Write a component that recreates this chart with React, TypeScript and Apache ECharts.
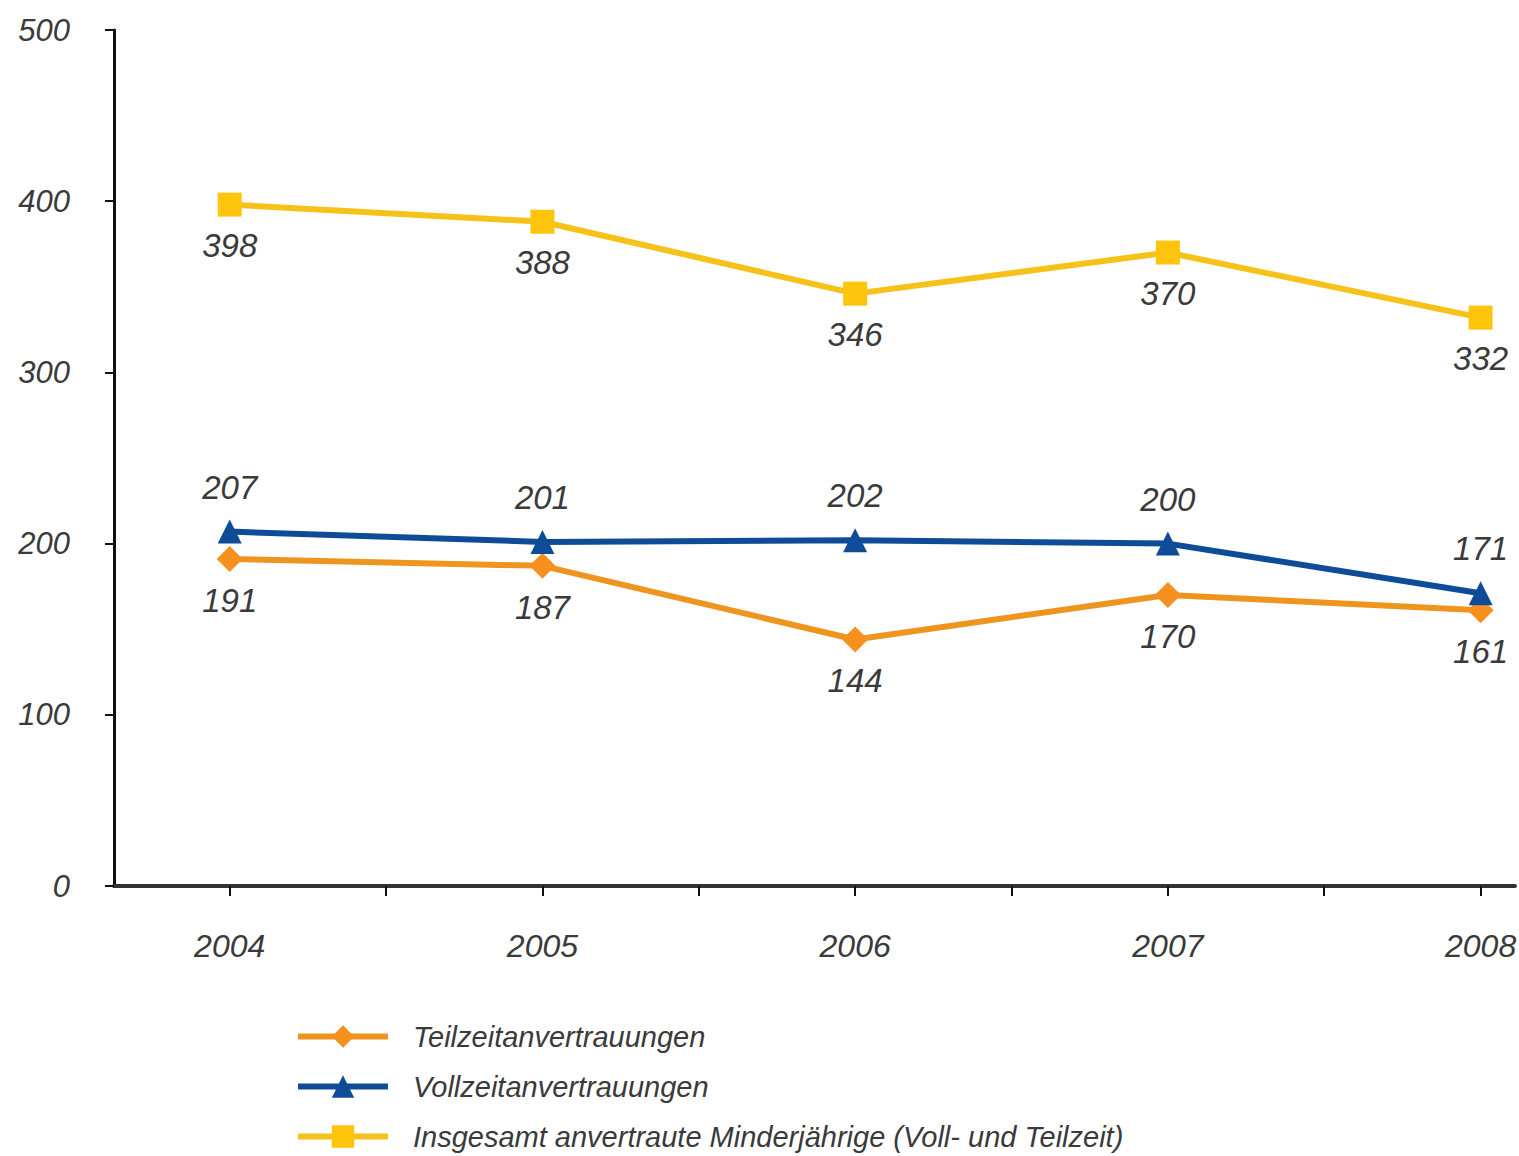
import React, { useEffect, useRef } from "react";
import * as echarts from "echarts";

// Years on the horizontal axis
const years = [2004, 2005, 2006, 2007, 2008];

// Series values (number of placements per year)
const teilzeit = [191, 187, 144, 170, 161];
const vollzeit = [207, 201, 202, 200, 171];
const insgesamt = [398, 388, 346, 370, 332];

// Series names as shown in the legend
const seriesNames = [
  "Teilzeitanvertrauungen",
  "Vollzeitanvertrauungen",
  "Insgesamt anvertraute Minderjährige (Voll- und Teilzeit)",
];

// Y axis tick values
const yTicks = [0, 100, 200, 300, 400, 500];

const FONT = '"Liberation Sans", Arial, sans-serif';
const TEXT = "#3a3a3a";
const W = 1519;
const H = 1156;

export default function App() {
  const ref = useRef<HTMLDivElement>(null);

  useEffect(() => {
    if (!ref.current) return;
    const chart = echarts.init(ref.current, null, { renderer: "svg", width: W, height: H });

    const pairs = (vals: number[]) => years.map((y, i) => [y, vals[i]]);
    const halfSteps = years.flatMap((y) => [y, y + 0.5]).filter((v) => v <= 2008.05);

    const labelStyle = {
      show: true,
      fontFamily: FONT,
      fontStyle: "italic" as const,
      fontSize: 33,
      color: TEXT,
    };

    chart.setOption({
      animation: false,
      backgroundColor: "#ffffff",
      textStyle: { fontFamily: FONT },
      grid: {
        left: 114,
        right: W - 1515,
        top: 30,
        bottom: H - 886,
        containLabel: false,
        outerBoundsMode: "none",
      },
      xAxis: {
        type: "value",
        min: 2003.63,
        max: 2008.11,
        axisLine: { show: true, lineStyle: { color: "#333", width: 4 } },
        axisTick: {
          show: true,
          length: 10,
          customValues: halfSteps,
          lineStyle: { color: "#111", width: 2 },
        },
        axisLabel: {
          customValues: years,
          formatter: (v: number) => String(Math.round(v)),
          margin: 44,
          fontFamily: FONT,
          fontStyle: "italic",
          fontSize: 32,
          color: TEXT,
        },
        splitLine: { show: false },
      },
      yAxis: {
        type: "value",
        min: yTicks[0],
        max: yTicks[yTicks.length - 1],
        interval: 100,
        axisLine: { show: true, lineStyle: { color: "#111", width: 3 } },
        axisTick: { show: true, length: 9, lineStyle: { color: "#111", width: 2 } },
        axisLabel: {
          margin: 44,
          fontFamily: FONT,
          fontStyle: "italic",
          fontSize: 31,
          color: TEXT,
        },
        splitLine: { show: false },
      },
      legend: {
        orient: "vertical",
        left: 295,
        top: 1022,
        height: 134,
        padding: 0,
        itemWidth: 90,
        itemHeight: 28,
        itemGap: 21,
        lineStyle: { width: 6 },
        textStyle: {
          fontFamily: FONT,
          fontStyle: "italic",
          fontSize: 29,
          color: TEXT,
          padding: [0, 0, 0, 20],
        },
        data: seriesNames,
      },
      series: [
        {
          name: seriesNames[0],
          type: "line",
          data: pairs(teilzeit),
          symbol: "diamond",
          symbolSize: 26,
          lineStyle: { color: "#EE9520", width: 6 },
          itemStyle: { color: "#F7901E" },
          label: { ...labelStyle, position: "bottom", distance: 12 },
          z: 3,
        },
        {
          name: seriesNames[1],
          type: "line",
          data: pairs(vollzeit),
          symbol: "triangle",
          symbolSize: 24,
          lineStyle: { color: "#0F4C97", width: 6 },
          itemStyle: { color: "#0F4C97" },
          label: { ...labelStyle, position: "top", distance: 16 },
          z: 4,
        },
        {
          name: seriesNames[2],
          type: "line",
          data: pairs(insgesamt),
          symbol: "rect",
          symbolSize: 24,
          lineStyle: { color: "#F6C21A", width: 6 },
          itemStyle: { color: "#FEC50C" },
          label: { ...labelStyle, position: "bottom", distance: 12 },
          z: 2,
        },
      ],
    });

    return () => chart.dispose();
  }, []);

  return (
    <div
      ref={ref}
      style={{ position: "absolute", left: 0, top: 0, width: W, height: H }}
    />
  );
}
